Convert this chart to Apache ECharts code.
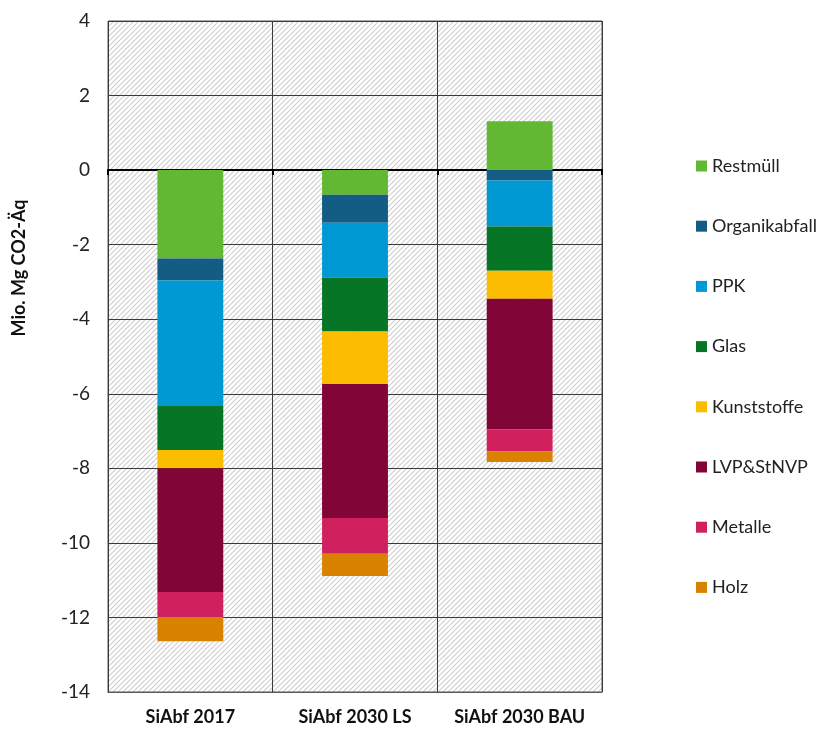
<!DOCTYPE HTML>
<html>
<head>
    <meta charset="utf-8">
    <title>Emissionen</title>
    <script type="text/javascript" src="https://cdn.jsdelivr.net/npm/echarts@6/dist/echarts.min.js"></script>
    <style>
        html, body { margin: 0; padding: 0; background: #fff; }
        #main { width: 818px; height: 730px; }
    </style>
</head>
<body>
<div id="main"></div>
<script>
    // Szenarien
    var categories = ['SiAbf 2017', 'SiAbf 2030 LS', 'SiAbf 2030 BAU'];
    var yTicks = [-14, -12, -10, -8, -6, -4, -2, 0, 2, 4];

    // Werte in Mio. Mg CO2-Äq je Fraktion
    var restmuell   = [-2.37, -0.66, 1.31];
    var organik     = [-0.59, -0.75, -0.28];
    var ppk         = [-3.37, -1.47, -1.23];
    var glas        = [-1.18, -1.45, -1.19];
    var kunststoffe = [-0.49, -1.41, -0.75];
    var lvp         = [-3.32, -3.59, -3.51];
    var metalle     = [-0.67, -0.96, -0.59];
    var holz        = [-0.65, -0.60, -0.28];

    var names  = ['Restmüll', 'Organikabfall', 'PPK', 'Glas', 'Kunststoffe', 'LVP&StNVP', 'Metalle', 'Holz'];
    var values = [restmuell, organik, ppk, glas, kunststoffe, lvp, metalle, holz];
    var colors = ['#62b833', '#135d85', '#0099d3', '#077526', '#fcbc00', '#820538', '#d0215e', '#d98200'];

    // schraffierter Hintergrund
    function hatch() {
        var c = document.createElement('canvas');
        c.width = 10; c.height = 10;
        var ctx = c.getContext('2d');
        ctx.fillStyle = '#ffffff';
        ctx.fillRect(0, 0, 10, 10);
        ctx.strokeStyle = '#cfcfcf';
        ctx.lineWidth = 1.2;
        for (var k = -10; k <= 10; k += 5) {
            ctx.beginPath();
            ctx.moveTo(k, 10);
            ctx.lineTo(k + 10, 0);
            ctx.stroke();
        }
        return c;
    }

    var font = 'Lato, "Open Sans", sans-serif';
    var series = [];
    for (var i = 0; i < names.length; i++) {
        series.push({
            name: names[i],
            type: 'bar',
            stack: 'summe',
            barWidth: '40%',
            itemStyle: { color: colors[i] },
            data: values[i]
        });
    }

    var myChart = echarts.init(document.getElementById('main'));
    myChart.setOption({
        animation: false,
        textStyle: { fontFamily: font },
        color: colors,
        grid: {
            left: 108,
            right: 216,
            top: 21,
            bottom: 38,
            show: true,
            backgroundColor: { image: hatch(), repeat: 'repeat' },
            borderColor: '#595959',
            borderWidth: 1
        },
        legend: {
            orient: 'vertical',
            left: 691,
            top: 151,
            itemWidth: 11,
            itemHeight: 11,
            itemGap: 40.2,
            icon: 'rect',
            textStyle: { fontSize: 18, color: '#222', lineHeight: 20, fontFamily: font },
            data: names
        },
        graphic: [{
            type: 'text',
            x: 19,
            y: 268,
            rotation: Math.PI / 2,
            style: {
                text: 'Mio. Mg CO2-Äq',
                font: 'bold 18px ' + font,
                fill: '#111',
                align: 'center',
                verticalAlign: 'middle'
            }
        }],
        xAxis: [{
            type: 'category',
            data: categories,
            position: 'bottom',
            axisLine: { onZero: false, lineStyle: { color: '#595959' } },
            axisTick: { show: false },
            splitLine: { show: true, interval: 0, lineStyle: { color: '#3a3a3a', width: 1 } },
            axisLabel: { interval: 0, fontSize: 18, fontWeight: 'bold', color: '#111', margin: 16 }
        }, {
            type: 'category',
            data: categories,
            position: 'bottom',
            axisLine: { onZero: true, lineStyle: { color: '#000', width: 2 } },
            axisTick: { show: true, interval: 0, length: 5, lineStyle: { color: '#000', width: 2 } },
            axisLabel: { show: false, interval: 0 },
            splitLine: { show: false }
        }],
        yAxis: {
            type: 'value',
            min: yTicks[0],
            max: yTicks[yTicks.length - 1],
            interval: 2,
            axisLine: { show: false },
            axisTick: { show: false },
            splitLine: { lineStyle: { color: '#3a3a3a', width: 1 } },
            axisLabel: { fontSize: 19, color: '#222', margin: 18 }
        },
        series: series
    });
</script>
</body>
</html>
